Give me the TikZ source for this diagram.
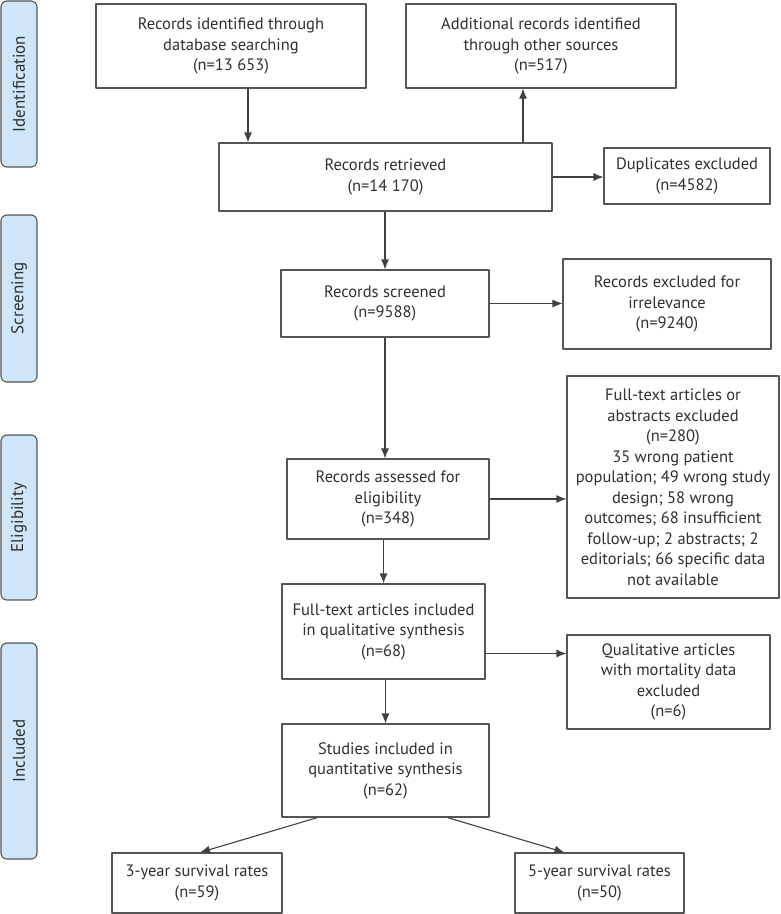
\documentclass[tikz,border=0pt]{standalone}
\usepackage{fontspec}
\setmainfont{PT Sans}
\usetikzlibrary{arrows.meta}
\definecolor{framegray}{HTML}{555555}
\definecolor{textgray}{HTML}{303030}
\definecolor{stageblue}{HTML}{CFE6F8}
\begin{document}
\begin{tikzpicture}[>={Latex[length=10bp,width=8bp]},line join=bevel,
  box/.style={draw=framegray,line width=1.1bp,fill=white,align=center,inner sep=0pt,
    text=textgray,font=\fontsize{16.5bp}{20.5bp}\selectfont},
  stage/.style={draw=framegray,line width=1.1bp,fill=stageblue,rounded corners=6bp,
    minimum width=36bp,inner sep=0pt,text=textgray,font=\fontsize{17bp}{20bp}\selectfont},
  flow/.style={draw=black!75,line width=1.1bp,->}]
%%
\useasboundingbox (0bp,0bp) rectangle (781bp,-914bp);
%
\node (stage_id) at (19bp,-84bp) [stage,minimum height=166bp] {\rotatebox{90}{Identification}};
  \node (stage_scr) at (19bp,-298.5bp) [stage,minimum height=167bp] {\rotatebox{90}{Screening}};
  \node (stage_elig) at (19bp,-517.5bp) [stage,minimum height=165bp] {\rotatebox{90}{Eligibility}};
  \node (stage_incl) at (19bp,-751bp) [stage,minimum height=216bp] {\rotatebox{90}{Included}};
%
\node (node_db) at (231bp,-46bp) [box,minimum width=270bp,minimum height=84bp] {Records identified through\\database searching\\(n=13 653)};
  \node (node_other) at (541bp,-46bp) [box,minimum width=270bp,minimum height=84bp] {Additional records identified\\through other sources\\(n=517)};
  \node (node_retr) at (385.5bp,-177bp) [box,minimum width=333bp,minimum height=68bp] {Records retrieved\\(n=14 170)};
  \node (node_dup) at (687bp,-176bp) [box,minimum width=166bp,minimum height=56bp] {Duplicates excluded\\(n=4582)};
  \node (node_scr) at (385bp,-303.5bp) [box,minimum width=208bp,minimum height=67bp] {Records screened\\(n=9588)};
  \node (node_irr) at (667bp,-304bp) [box,minimum width=208bp,minimum height=90bp] {Records excluded for\\irrelevance\\(n=9240)};
  \node (node_elig) at (388bp,-499bp) [box,minimum width=202bp,minimum height=80bp] {Records assessed for\\eligibility\\(n=348)};
  \node (node_ftx) at (673bp,-487bp) [box,minimum width=212bp,minimum height=222bp] {Full-text articles or\\abstracts excluded\\(n=280)\\35 wrong patient\\population; 49 wrong study\\design; 58 wrong\\outcomes; 68 insufficient\\follow-up; 2 abstracts; 2\\editorials; 66 specific data\\not available};
  \node (node_qual) at (383.5bp,-631.5bp) [box,minimum width=203bp,minimum height=95bp] {Full-text articles included\\in qualitative synthesis\\(n=68)};
  \node (node_mort) at (668.5bp,-682bp) [box,minimum width=203bp,minimum height=94bp] {Qualitative articles\\with mortality data\\excluded\\(n=6)};
  \node (node_quant) at (385.5bp,-770.5bp) [box,minimum width=207bp,minimum height=93bp] {Studies included in\\quantitative synthesis\\(n=62)};
  \node (node_y3) at (197bp,-883bp) [box,minimum width=170bp,minimum height=60bp] {3-year survival rates\\(n=59)};
  \node (node_y5) at (599.5bp,-883bp) [box,minimum width=169bp,minimum height=60bp] {5-year survival rates\\(n=50)};
%
\draw [flow] ([xshift=17bp]node_db.south) -- ([xshift=17bp]node_db.south |- node_retr.north);
  \draw [flow] ([xshift=-18bp]node_other.south |- node_retr.north) -- ([xshift=-18bp]node_other.south);
  \draw [flow] (node_retr.east) -- (node_retr.east -| node_dup.west);
  \draw [flow] (node_retr.south -| node_scr.north) -- (node_scr.north);
  \draw [flow] (node_scr.east) -- (node_scr.east -| node_irr.west);
  \draw [flow] (node_scr.south) -- (node_scr.south |- node_elig.north);
  \draw [flow] (node_elig.east) -- (node_elig.east -| node_ftx.west);
  \draw [flow] (node_elig.south -| node_qual.north) -- (node_qual.north);
  \draw [flow] ([yshift=-22bp]node_qual.east) -- ([yshift=-22bp]node_qual.east -| node_mort.west);
  \draw [flow] (node_qual.south -| node_quant.north) -- (node_quant.north);
  \draw [flow] ([xshift=-68bp]node_quant.south) -- ([xshift=3bp]node_y3.north);
  \draw [flow] ([xshift=62bp]node_quant.south) -- ([xshift=-35bp]node_y5.north);
%
\end{tikzpicture}
\end{document}
